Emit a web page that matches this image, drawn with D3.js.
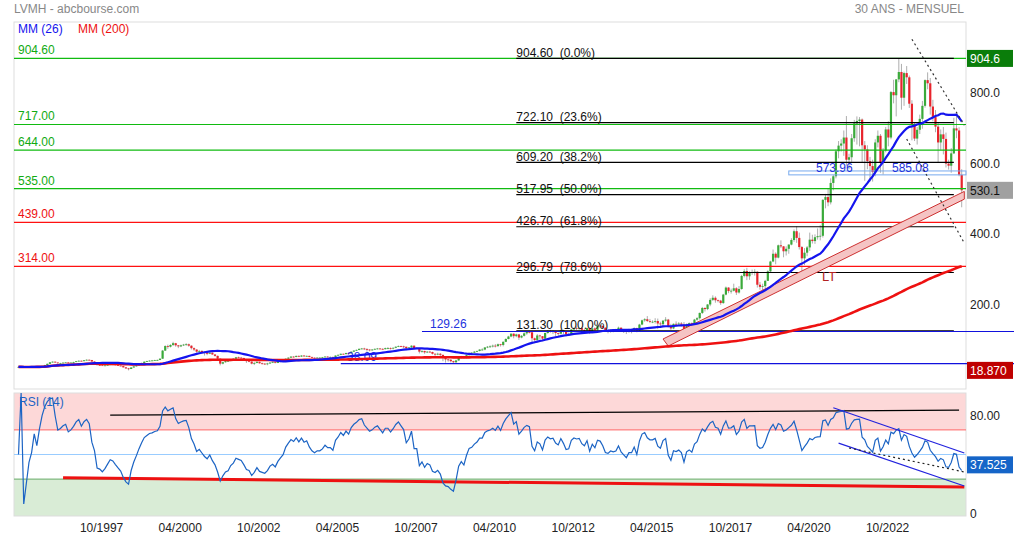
<!DOCTYPE html>
<html>
<head>
<meta charset="utf-8">
<script src="https://cdnjs.cloudflare.com/ajax/libs/d3/7.8.5/d3.min.js"></script>
<style>
  body { margin: 0; background: #fff; }
  svg { display: block; font-family: "Liberation Sans", Arial, sans-serif; }
</style>
</head>
<body>
<div id="chart"></div>
<script>
// LVMH monthly candles, 04/1995 -> 04/2025 (open = previous close)
var firstMonth = '1995-04';
var firstOpen = 28.4;
var closes = [
  28.8, 28.9, 28.05, 28.25, 28.55, 28.75, 29.35, 29.05, 29.95,
  31.5, 34.0, 37.5, 41.8, 43.5, 41.2, 38.9, 39.6, 40.8, 41.5, 40.2, 41.0,
  42.5, 44.8, 46.2, 45.0, 47.5, 49.0, 48.2, 44.0, 41.5, 34.0, 33.5, 32.0,
  33.0, 34.5, 36.0, 35.5, 34.0, 32.5, 31.0, 27.5, 24.5, 22.8, 27.0, 30.2,
  33.0, 36.5, 40.0, 43.5, 45.0, 46.5, 47.0, 48.0, 48.5, 52.0, 75.0, 88.0,
  86, 91, 96, 90, 87, 90, 92, 93, 89, 82, 78, 72,
  74, 71, 68, 66, 69, 64, 60, 52, 38, 42, 45, 46,
  50, 52, 56, 55, 54, 50, 45, 44, 38, 40, 43, 39,
  38, 37, 38.5, 41, 42, 40, 43, 45, 47, 52, 55, 58,
  57, 60, 58, 61, 59, 60, 57, 55, 54, 55, 55, 56,
  58, 57, 57, 56, 61, 63, 66, 65, 68, 67, 72, 75,
  77, 80, 81, 79, 78, 77, 78, 80, 81, 80, 79, 82,
  82, 81, 83, 86, 88, 87, 86, 82, 84, 89, 82, 82,
  72, 74, 70, 72, 71, 66, 65, 66, 63, 54, 50, 49,
  45, 42, 47, 55, 58, 55, 62, 68, 69, 72, 74, 78,
  78, 84, 86, 87, 89, 88, 93, 91, 100, 108, 115, 123,
  116, 121, 112, 117, 124, 128, 127, 110, 105, 118, 116, 109,
  125, 131, 129, 130, 125, 123, 133, 128, 121, 122, 135, 139,
  138, 139, 134, 132, 139, 128, 138, 134, 146, 145, 140, 132,
  131, 134, 133, 134, 140, 134, 131, 128, 133, 133, 139, 132,
  149, 161, 164, 159, 157, 157, 159, 152, 150, 160, 163, 145,
  138, 151, 150, 152, 149, 136, 150, 153, 150, 163, 167, 182,
  196, 193, 206, 219, 225, 218, 217, 210, 234, 254, 244, 245,
  252, 240, 250, 287, 301, 286, 298, 298, 299, 262, 256, 258,
  273, 300, 328, 350, 339, 374, 371, 357, 364, 376, 389, 414,
  395, 369, 337, 353, 368, 390, 386, 397, 400, 401, 503, 511,
  496, 551, 570, 641, 657, 663, 680, 617, 624, 678, 720, 727,
  731, 658, 646, 613, 599, 582, 666, 685, 609, 643, 703, 680,
  809, 800, 845, 866, 793, 863, 851, 776, 717, 677, 702, 733,
  770, 843, 834, 768, 738, 711, 666, 689, 676, 606, 600, 635,
  706, 700, 574, 530.1
];
var highs = [
  29.4, 29.5, 29.2, 28.9, 29.1, 29.3, 29.9, 29.8, 30.4,
  32.0, 34.6, 38.2, 42.5, 44.6, 44.0, 41.8, 40.5, 41.6, 42.4, 42.0, 41.8,
  43.4, 45.6, 47.2, 46.8, 48.3, 50.1, 49.8, 48.6, 45.0, 42.0, 35.2, 34.0,
  33.9, 35.2, 37.0, 37.1, 36.0, 34.8, 33.2, 31.5, 28.2, 25.8, 27.8, 30.9,
  33.8, 37.3, 40.8, 44.5, 46.2, 47.3, 48.5, 49.0, 49.5, 53.2, 76.8, 90.0,
  92, 93, 100, 97, 91, 92, 94, 96, 95, 90, 84, 79,
  77, 76, 73, 70, 71, 70, 65, 61, 53, 44, 47, 48,
  51, 53, 57, 58, 57, 55, 51, 47, 45, 42, 45, 44,
  41, 39.5, 40.5, 42, 44, 43.5, 44, 46, 48, 53, 56, 59,
  59, 61, 61, 62, 61.5, 61, 60.5, 57.5, 55.5, 56.5, 56.5, 57,
  59, 59, 58.5, 58, 61.5, 64, 66.5, 66.5, 69, 69, 72.5, 76,
  78, 81, 82.5, 83, 82, 79, 79.5, 81, 82.5, 82, 81.5, 83.5,
  85, 84, 84, 87, 89.5, 89, 89, 86, 85, 90, 89.5, 84,
  82, 76, 74.5, 74, 74.5, 72, 67, 69, 68, 63, 56, 52,
  51, 46, 49, 57, 60, 59, 63, 69, 71, 74, 75, 79,
  81.5, 85, 88, 90, 92, 93.5, 95, 94, 101, 110, 117, 124,
  124, 123, 122, 119, 127, 129, 131, 128, 112, 122, 120, 116,
  126, 133, 134, 133, 131, 126, 135, 134, 129, 126, 136, 141,
  143, 141, 142, 135, 140, 141, 139, 141, 147, 148, 146, 141,
  135, 135, 136, 137, 143, 141, 135, 133, 137, 135, 141, 140,
  151, 163, 167, 173, 165, 161, 167, 166, 157, 162, 170, 165,
  151, 152, 158, 156, 156, 156, 152, 155, 155, 165, 170, 183,
  199, 198, 207, 224, 232, 229, 220, 219, 236, 257, 255, 251,
  265, 255, 258, 290, 306, 310, 300, 305, 306, 300, 270, 265,
  276, 303, 330, 362, 354, 376, 388, 372, 371, 377, 394, 419,
  428, 410, 372, 366, 372, 410, 404, 405, 422, 431, 505, 520,
  536, 564, 574, 646, 670, 675, 700, 741, 634, 690, 730, 740,
  738, 734, 670, 658, 625, 617, 675, 700, 690, 650, 710, 726,
  812, 844, 846, 904.6, 889, 867, 883, 856, 786, 724, 710, 745,
  784, 845, 865, 849, 787, 758, 723, 703, 710, 694, 617, 650,
  736, 745, 709, 590
];
var lows = [
  28.0, 28.3, 27.7, 27.6, 27.9, 28.1, 28.4, 28.6, 28.8,
  29.2, 31.0, 33.6, 37.0, 41.0, 40.5, 37.8, 38.0, 39.2, 40.2, 39.5, 39.8,
  40.6, 42.2, 44.3, 44.2, 44.8, 47.0, 47.1, 43.2, 40.5, 32.5, 31.8, 31.2,
  31.4, 32.6, 34.2, 34.8, 33.5, 32.0, 30.5, 26.8, 23.0, 18.87, 22.5, 26.7,
  29.8, 32.5, 35.8, 39.6, 42.7, 44.5, 45.8, 46.5, 46.9, 47.8, 51.5, 74.0,
  80, 84, 88, 86, 82, 85, 88, 89, 86, 78, 74, 69,
  70, 69, 61, 62, 65, 63, 58, 50, 33, 36, 41, 43,
  45, 48, 51, 53, 52, 48, 40, 42, 36, 34, 39, 38,
  35.5, 34.5, 33.5, 37, 40, 39, 39.5, 42, 44, 46, 51, 54,
  55, 56, 56.5, 57, 57.5, 58, 56, 53, 52.5, 53, 53.5, 54,
  55.5, 56, 55.5, 54.5, 55.5, 60, 62, 63.5, 64.5, 64, 66, 71,
  74, 76, 78.5, 77, 72, 73, 75, 77, 78.5, 78.5, 77.5, 78.5,
  79, 78, 78.5, 82, 85, 85, 82, 76, 79, 83, 79, 79.5,
  67, 69, 66, 68, 69, 64, 60, 62, 58, 45, 41, 43.5,
  41.5, 38.5, 39, 46, 53, 52.5, 53, 61, 65.5, 68, 70.5, 73,
  75, 76, 82, 83, 84, 84, 85, 86.5, 87, 99, 107, 113,
  110, 113, 105, 110, 115, 120, 124, 98, 96, 104, 106, 102,
  108, 123, 126, 122, 115, 113, 121, 122, 115, 117, 121, 132,
  133, 134, 130, 125, 131, 122, 126, 130, 132, 139, 136, 128,
  124, 126, 127, 128, 134, 130, 125, 122, 126, 124, 131, 127,
  131, 147, 157, 156, 153, 153, 152, 136, 140, 145, 157, 141,
  134, 136, 144, 147, 144, 131, 135, 147, 146, 148, 160, 163,
  179, 186, 190, 201, 216, 211, 212, 205, 208, 232, 238, 237,
  243, 233, 237, 248, 283, 275, 276, 290, 288, 254, 248, 239,
  251, 273, 296, 326, 320, 337, 366, 340, 345, 350, 374, 384,
  381, 362, 278, 318, 343, 358, 379, 378, 390, 388, 396, 479,
  485, 490, 530, 564, 621, 640, 628, 600, 590, 611, 668, 660,
  655, 610, 557, 590, 555, 555, 570, 652, 580, 575, 638, 655,
  675, 777, 740, 837, 759, 770, 832, 764, 672, 670, 660, 690,
  705, 765, 817, 745, 726, 695, 609, 645, 632, 595, 589, 580,
  633, 678, 570, 482
];

// horizontal levels
var greenLevels = [904.60, 717.00, 644.00, 535.00];
var redLevels = [439.00, 314.00];
var fibValues = [904.60, 722.10, 609.20, 517.95, 426.70, 296.79, 131.30];
var fibPcts = ['0.0%', '23.6%', '38.2%', '50.0%', '61.8%', '78.6%', '100.0%'];
var fibSpan = ['2011-02', '2025-01'];
var blueLevels = [129.26, 38.09];
var blueStarts = ['2008-02', '2005-07'];
var zoneLevels = [573.96, 585.08];
var zoneStart = '2019-10';

// drawn trend lines [month, value]
var ltUpper = [['2015-10', 108], ['2025-05', 527]];
var ltLower = [['2015-12', 88], ['2025-05', 505]];
var dotLine1 = [['2023-09', 959], ['2025-05', 715]];
var dotLine2 = [['2023-07', 676], ['2025-05', 380]];
var rsiTop = [['1998-03', 82], ['2025-03', 86]];
var rsiSupport = [['1996-09', 31], ['2025-05', 23.6]];
var rsiChanUp = [['2021-03', 88], ['2025-05', 51.2]];
var rsiChanDown = [['2021-05', 59.3], ['2025-05', 24.4]];
var rsiDotted = [['2021-09', 55.3], ['2025-05', 35.8]];

var priceTicks = [200, 400, 600, 800];
var rsiTicks = [0, 80];
var xTickLabels = ['10/1997', '04/2000', '10/2002', '04/2005', '10/2007', '04/2010',
                   '10/2012', '04/2015', '10/2017', '04/2020', '10/2022'];
var rsiLast = 37.525;

var W = 1014, H = 538;
var L = 14, R = 966;
var svg = d3.select('#chart').append('svg').attr('width', W).attr('height', H);

function mIdx(s) { var p = s.split('-'); return (+p[0] - 1995) * 12 + (+p[1] - 4); }
function lblIdx(s) { var p = s.split('/'); return (+p[1] - 1995) * 12 + (+p[0] - 4); }

var x = d3.scaleLinear().domain([0, closes.length - 1]).range([18.5, 961.7]);
var y = d3.scaleLinear().domain([-34, 1008]).range([389, 22]);
var yr = d3.scaleLinear().domain([0, 100]).range([516, 393]);

// header
svg.append('text').attr('x', 14).attr('y', 13).attr('font-size', 12).attr('fill', '#888')
  .text('LVMH - abcbourse.com');
svg.append('text').attr('x', 964).attr('y', 13).attr('font-size', 12).attr('fill', '#888')
  .attr('text-anchor', 'end').text('30 ANS - MENSUEL');

// panels
svg.append('rect').attr('x', L).attr('y', 22).attr('width', R - L).attr('height', 367)
  .attr('fill', 'none').attr('stroke', '#ddd');
svg.append('rect').attr('x', L).attr('y', yr(100)).attr('width', R - L).attr('height', yr(70) - yr(100))
  .attr('fill', '#fdd8d8');
svg.append('rect').attr('x', L).attr('y', yr(30)).attr('width', R - L).attr('height', yr(0) - yr(30))
  .attr('fill', '#d9ecd6');
svg.append('rect').attr('x', L).attr('y', yr(100)).attr('width', R - L).attr('height', yr(0) - yr(100))
  .attr('fill', 'none').attr('stroke', '#ddd');
[[70, '#f66'], [50, '#9cf'], [30, '#6a6']].forEach(function(d) {
  svg.append('line').attr('x1', L).attr('x2', R).attr('y1', yr(d[0])).attr('y2', yr(d[0]))
    .attr('stroke', d[1]).attr('stroke-width', 1);
});

// candles
var candles = closes.map(function(c, i) {
  return { i: i, o: i ? closes[i - 1] : firstOpen, c: c, h: highs[i], l: lows[i] };
});
var cg = svg.append('g');
cg.selectAll('line').data(candles).enter().append('line')
  .attr('x1', function(d) { return x(d.i); }).attr('x2', function(d) { return x(d.i); })
  .attr('y1', function(d) { return y(d.h); }).attr('y2', function(d) { return y(d.l); })
  .attr('stroke', '#999').attr('stroke-width', 0.8);
cg.selectAll('rect').data(candles).enter().append('rect')
  .attr('x', function(d) { return x(d.i) - 1.1; }).attr('width', 2.2)
  .attr('y', function(d) { return y(Math.max(d.o, d.c)); })
  .attr('height', function(d) { return Math.max(0.8, Math.abs(y(d.o) - y(d.c))); })
  .attr('fill', function(d) { return d.c >= d.o ? '#3aaa3a' : '#e8242c'; });

// level lines
var lv = svg.append('g').attr('font-size', 12);
greenLevels.forEach(function(v) {
  lv.append('line').attr('x1', L).attr('x2', R).attr('y1', y(v)).attr('y2', y(v))
    .attr('stroke', '#11bb11').attr('stroke-width', 1.2);
  lv.append('text').attr('x', 18).attr('y', y(v) - 4).attr('fill', '#11aa11').text(v.toFixed(2));
});
redLevels.forEach(function(v) {
  lv.append('line').attr('x1', L).attr('x2', R).attr('y1', y(v)).attr('y2', y(v))
    .attr('stroke', '#ff1111').attr('stroke-width', 1.2);
  lv.append('text').attr('x', 18).attr('y', y(v) - 4).attr('fill', '#ee1111').text(v.toFixed(2));
});
fibValues.forEach(function(v, i) {
  lv.append('line').attr('x1', x(mIdx(fibSpan[0]))).attr('x2', x(mIdx(fibSpan[1])))
    .attr('y1', y(v)).attr('y2', y(v)).attr('stroke', '#000').attr('stroke-width', 1.2);
  lv.append('text').attr('x', x(mIdx(fibSpan[0]))).attr('y', y(v) - 1.5).attr('fill', '#111')
    .style('white-space', 'pre').text(v.toFixed(2) + '  (' + fibPcts[i] + ')');
});
var blueLabelX = [430, 347];
blueLevels.forEach(function(v, i) {
  lv.append('line').attr('x1', x(mIdx(blueStarts[i]))).attr('x2', W).attr('y1', y(v)).attr('y2', y(v))
    .attr('stroke', '#1111dd').attr('stroke-width', 1.2);
  lv.append('text').attr('x', blueLabelX[i]).attr('y', y(v) - 3).attr('fill', '#2233dd').text(v.toFixed(2));
});
lv.append('rect').attr('x', x(mIdx(zoneStart))).attr('width', R - x(mIdx(zoneStart)))
  .attr('y', y(zoneLevels[1])).attr('height', y(zoneLevels[0]) - y(zoneLevels[1]))
  .attr('fill', 'none').attr('stroke', '#77aaee').attr('stroke-width', 1);
[816, 892].forEach(function(px, i) {
  lv.append('text').attr('x', px).attr('y', y(zoneLevels[0]) - 3).attr('fill', '#2233dd')
    .text(zoneLevels[i].toFixed(2));
});

// LT channel
var chan = [ltUpper[0], ltUpper[1], ltLower[1], ltLower[0]];
svg.append('polygon')
  .attr('points', chan.map(function(p) { return x(mIdx(p[0])) + ',' + y(p[1]); }).join(' '))
  .attr('fill', '#f5c4c4').attr('stroke', '#cc3030').attr('stroke-width', 1);
svg.append('text').attr('x', 822).attr('y', 281).attr('font-size', 13).attr('fill', '#b22222').text('LT');

// moving averages
function sma(n) {
  return closes.map(function(c, i) { return d3.mean(closes.slice(Math.max(0, i - n + 1), i + 1)); });
}
var line = d3.line().x(function(d, i) { return x(i); }).y(function(d) { return y(d); });
svg.append('path').attr('d', line(sma(200))).attr('fill', 'none')
  .attr('stroke', '#ee1111').attr('stroke-width', 2.6);
svg.append('path').attr('d', line(sma(26))).attr('fill', 'none')
  .attr('stroke', '#1414ee').attr('stroke-width', 2.2);

// dotted trend lines
function seg(pts, sc, col, w, dash) {
  svg.append('line')
    .attr('x1', x(mIdx(pts[0][0]))).attr('y1', sc(pts[0][1]))
    .attr('x2', x(mIdx(pts[1][0]))).attr('y2', sc(pts[1][1]))
    .attr('stroke', col).attr('stroke-width', w).attr('stroke-dasharray', dash || null);
}
seg(dotLine1, y, '#333', 1.2, '2,3');
seg(dotLine2, y, '#333', 1.2, '2,3');

// legend
svg.append('text').attr('x', 18).attr('y', 33).attr('font-size', 12).attr('fill', '#1414ee').text('MM (26)');
svg.append('text').attr('x', 78).attr('y', 33).attr('font-size', 12).attr('fill', '#ee1111').text('MM (200)');

// RSI
function rsi(n) {
  var ag = 0, al = 0, out = [50];
  for (var i = 1; i < closes.length; i++) {
    var d = closes[i] - closes[i - 1];
    ag = (ag * (n - 1) + Math.max(d, 0)) / n;
    al = (al * (n - 1) + Math.max(-d, 0)) / n;
    out.push(al === 0 ? 100 : 100 - 100 / (1 + ag / al));
  }
  return out;
}
seg(rsiTop, yr, '#000', 1.2);
seg(rsiSupport, yr, '#ee1111', 3);
var rline = d3.line().x(function(d, i) { return x(i); }).y(function(d) { return yr(d); });
svg.append('path').attr('d', rline(rsi(14))).attr('fill', 'none')
  .attr('stroke', '#1c64c4').attr('stroke-width', 1.2);
seg(rsiChanUp, yr, '#2222dd', 1.2);
seg(rsiChanDown, yr, '#2222dd', 1.2);
seg(rsiDotted, yr, '#222', 1.2, '2,3');
svg.append('text').attr('x', 19).attr('y', 406).attr('font-size', 12).attr('fill', '#1c64c4').text('RSI (14)');

// axes
var lblByIdx = {};
xTickLabels.forEach(function(s) { lblByIdx[lblIdx(s)] = s; });
var gx = svg.append('g').attr('transform', 'translate(0,516)')
  .call(d3.axisBottom(x).tickValues(xTickLabels.map(lblIdx))
    .tickFormat(function(d) { return lblByIdx[d]; }).tickSize(0).tickPadding(7));
var gy = svg.append('g').attr('transform', 'translate(' + R + ',0)')
  .call(d3.axisRight(y).tickValues(priceTicks).tickFormat(d3.format('.1f')).tickSize(0).tickPadding(4));
var gr = svg.append('g').attr('transform', 'translate(' + R + ',0)')
  .call(d3.axisRight(yr).tickValues(rsiTicks)
    .tickFormat(function(d) { return d ? d3.format('.2f')(d) : '0'; }).tickSize(0).tickPadding(4));
[gx, gy, gr].forEach(function(g) {
  g.select('.domain').remove();
  g.selectAll('text').attr('font-size', 12).attr('fill', '#222')
    .attr('font-family', '"Liberation Sans", Arial, sans-serif');
});
gx.selectAll('text').attr('dx', 4);
gy.selectAll('text').attr('dy', '0.13em');
gr.selectAll('text').attr('dy', '0.13em');

// value boxes
var boxes = [
  { cy: y(d3.max(highs)), t: d3.format('.1f')(d3.max(highs)), fill: '#0a7d0a', col: '#fff' },
  { cy: y(closes[closes.length - 1]), t: d3.format('.1f')(closes[closes.length - 1]), fill: '#a0a0a0', col: '#111' },
  { cy: y(d3.min(lows)), t: d3.format('.3f')(d3.min(lows)), fill: '#bf0000', col: '#fff' },
  { cy: yr(rsiLast) - 5, t: d3.format('.3f')(rsiLast), fill: '#1565c8', col: '#fff' }
];
var bg = svg.append('g').selectAll('g').data(boxes).enter().append('g');
bg.append('rect').attr('x', 967).attr('width', 46).attr('y', function(d) { return d.cy - 8.5; })
  .attr('height', 17).attr('fill', function(d) { return d.fill; });
bg.append('text').attr('x', 970).attr('y', function(d) { return d.cy + 4.5; })
  .attr('font-size', 12).attr('fill', function(d) { return d.col; }).text(function(d) { return d.t; });
</script>
</body>
</html>
